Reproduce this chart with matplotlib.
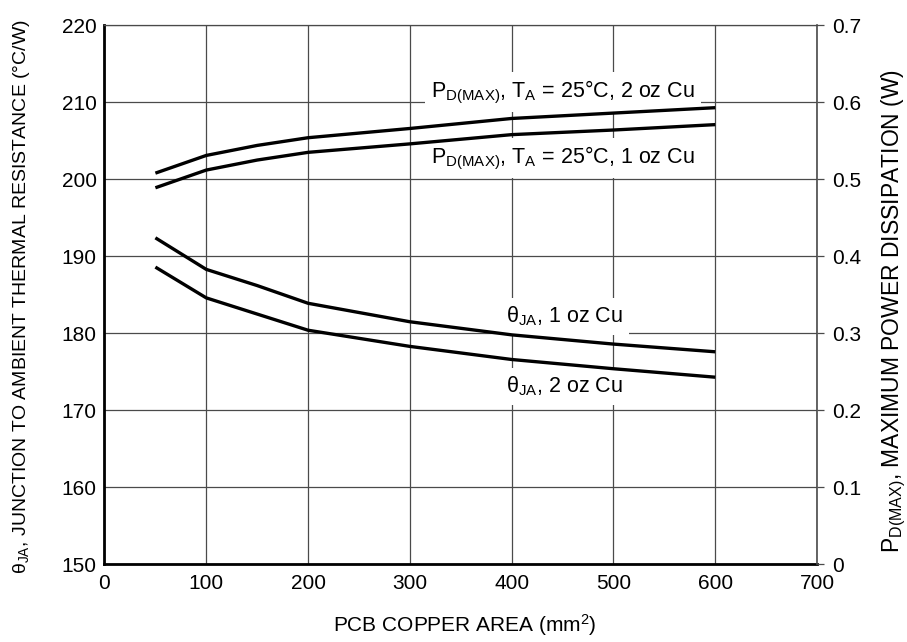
import matplotlib
matplotlib.use("Agg")
import matplotlib.pyplot as plt
from matplotlib import font_manager

plt.rcParams["font.family"] = ["Liberation Sans", "DejaVu Sans"]
plt.rcParams["mathtext.fontset"] = "custom"
plt.rcParams["mathtext.rm"] = "Liberation Sans"
plt.rcParams["mathtext.it"] = "Liberation Sans"
plt.rcParams["mathtext.default"] = "regular"

# PCB copper area (mm^2)
area = [50, 100, 150, 200, 300, 400, 500, 600]

# thermal resistance, left axis (degC/W)
theta_1oz = [192.4, 188.3, 186.2, 183.9, 181.5, 179.8, 178.6, 177.6]
theta_2oz = [188.6, 184.6, 182.5, 180.4, 178.3, 176.6, 175.4, 174.3]

# max power dissipation, right axis (W)
pd_2oz = [0.508, 0.531, 0.544, 0.554, 0.566, 0.579, 0.586, 0.593]
pd_1oz = [0.489, 0.512, 0.525, 0.535, 0.546, 0.558, 0.564, 0.571]

x_ticks = [0, 100, 200, 300, 400, 500, 600, 700]
left_ticks = [150, 160, 170, 180, 190, 200, 210, 220]
right_ticks = [0, 0.1, 0.2, 0.3, 0.4, 0.5, 0.6, 0.7]
right_labels = ["0", "0.1", "0.2", "0.3", "0.4", "0.5", "0.6", "0.7"]

FS = 15
ANN_FS = 15.5
GRID = "#4a4a4a"

# the left axis title is set in a narrow face in the original
try:
    font_manager.findfont("Liberation Sans Narrow", fallback_to_default=False)
    narrow = "Liberation Sans Narrow"
    narrow_fs = 16.5
except ValueError:
    narrow = "Liberation Sans"
    narrow_fs = 14

fig = plt.figure(figsize=(9.07, 6.42), dpi=100)
ax = fig.add_axes([0.1152, 0.121, 0.7856, 0.8396])
ax2 = ax.twinx()

ax.set_xlim(0, 700)
ax.set_ylim(150, 220)
ax2.set_ylim(0, 0.7)

ax.set_xticks(x_ticks)
ax.set_yticks(left_ticks)
ax2.set_yticks(right_ticks)
ax2.set_yticklabels(right_labels)

ax.grid(True, color=GRID, linewidth=0.9)
ax.set_axisbelow(True)

ax.tick_params(axis="both", length=0, labelsize=FS)
ax.tick_params(axis="y", pad=5.5)
ax.tick_params(axis="x", pad=7)
ax2.tick_params(axis="y", direction="out", length=5, width=0.9, color=GRID,
                labelsize=FS, pad=6)

for side in ["left", "bottom"]:
    ax.spines[side].set_linewidth(2.0)
    ax.spines[side].set_color("black")
for side in ["top", "right"]:
    ax.spines[side].set_visible(False)
ax2.spines["left"].set_visible(False)
ax2.spines["bottom"].set_visible(False)
ax2.spines["top"].set_linewidth(0.9)
ax2.spines["top"].set_color(GRID)
ax2.spines["right"].set_linewidth(1.2)
ax2.spines["right"].set_color(GRID)

lw = 2.4
ax.plot(area, theta_1oz, color="black", lw=lw, solid_capstyle="butt", zorder=3)
ax.plot(area, theta_2oz, color="black", lw=lw, solid_capstyle="butt", zorder=3)
ax2.plot(area, pd_2oz, color="black", lw=lw, solid_capstyle="butt")
ax2.plot(area, pd_1oz, color="black", lw=lw, solid_capstyle="butt")

box = dict(boxstyle="square,pad=0.3", facecolor="white", edgecolor="none")
ax.text(321, 210.65, "P$_{D(MAX)}$, T$_{A}$ = 25°C, 2 oz Cu", fontsize=ANN_FS,
        ha="left", va="baseline", bbox=box, zorder=2)
ax.text(321, 202.07, "P$_{D(MAX)}$, T$_{A}$ = 25°C, 1 oz Cu", fontsize=ANN_FS,
        ha="left", va="baseline", bbox=box, zorder=2)
ax.text(394, 181.38, "θ$_{JA}$, 1 oz Cu", fontsize=ANN_FS,
        ha="left", va="baseline", bbox=box, zorder=2)
ax.text(394, 172.29, "θ$_{JA}$, 2 oz Cu", fontsize=ANN_FS,
        ha="left", va="baseline", bbox=box, zorder=2)

ax.set_xlabel("PCB COPPER AREA (mm$^{2}$)", fontsize=FS, va="center")
ax.set_ylabel("θ$_{JA}$, JUNCTION TO AMBIENT THERMAL RESISTANCE (°C/W)",
              fontsize=narrow_fs, family=[narrow, "DejaVu Sans"],
              va="center", ha="center")
ax2.set_ylabel("P$_{D(MAX)}$, MAXIMUM POWER DISSIPATION (W)", fontsize=16.5,
               va="center", ha="center")
ax.xaxis.set_label_coords(0.506, -0.112)
ax.yaxis.set_label_coords(-0.117, 0.497)
ax2.yaxis.set_label_coords(1.108, 0.47)

fig.savefig("out.png", dpi=100)
